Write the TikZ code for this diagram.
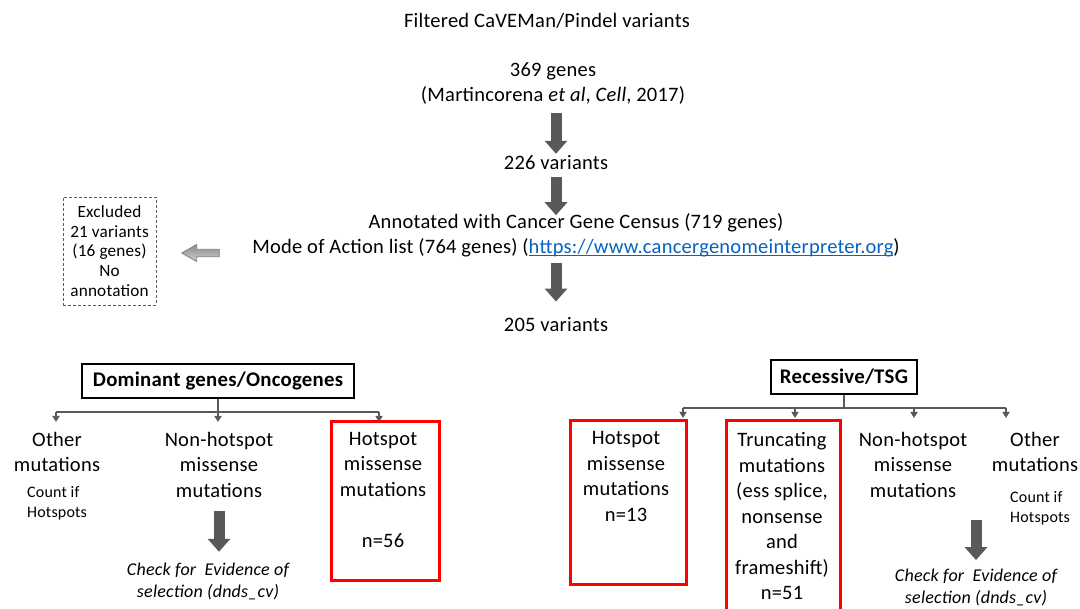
\documentclass[tikz,border=0pt]{standalone}
\usepackage{fontspec}
\setmainfont[LetterSpace=1.2]{Carlito}
\usetikzlibrary{arrows.meta}
\definecolor{dgray}{HTML}{595959}
\definecolor{linkblue}{HTML}{0563C1}
\definecolor{boxred}{HTML}{FF0000}
\definecolor{agray}{HTML}{7F7F7F}
\newcommand\fmain{\fontsize{20.5}{25.5}\selectfont}
\newcommand\fsml{\fontsize{16}{20}\selectfont}
\newcommand\fexcl{\fontsize{17.2}{19.8}\selectfont}
\newcommand\fchk{\fontsize{18}{21.5}\selectfont\itshape}
\newcommand\fbld{\fontsize{20.8}{25}\selectfont\bfseries}
\newcommand\linkul[1]{\setbox0\hbox{#1}\rlap{\rule[-2.4pt]{\wd0}{1.1pt}}\box0}
\begin{document}
\begin{tikzpicture}[x=1pt,y=-1pt,
  txt/.style={inner sep=0pt, align=center, font=\fmain,
    execute at begin node=\strut, execute at end node=\strut},
  smalltxt/.style={txt, align=left, font=\fsml},
  chk/.style={txt, font=\fchk},
  catbox/.style={draw=black, line width=1.3pt, inner sep=0pt, font=\fbld, minimum height=34pt},
  redbox/.style={draw=boxred, line width=3pt, inner sep=0pt},
  exclbox/.style={draw=dgray, dashed, dash pattern=on 3pt off 2pt, line width=0.9pt,
    inner sep=0pt, align=center, font=\fexcl, minimum width=93pt, minimum height=108pt},
  bigarrow/.style={draw=dgray, line width=11pt, -{Triangle[width=22pt,length=13pt]}},
  treeline/.style={draw=dgray, line width=2pt},
  treetip/.style={draw=dgray, line width=2pt, -{Triangle[width=7pt,length=6pt]}},
  grayarrow/.style={draw=agray, line width=0.8pt, top color=black!45, middle color=white, bottom color=black!20}
]
\useasboundingbox (0,0) rectangle (1080,609);

% top chain
\node[txt] (filt) at (547,22) {Filtered CaVEMan/Pindel variants};
\node[txt] (genes) at (553,86) {369 genes\\(Martincorena \textit{et al}, \textit{Cell}, 2017)};
\node[txt] (v226) at (556,164) {226 variants};
\node[txt] (annot) at (576,237.5) {Annotated with Cancer Gene Census (719 genes)\\Mode of Action list (764 genes) (\textcolor{linkblue}{\linkul{https://www.cancergenomeinterpreter.org}})};
\node[txt] (v205) at (556,326) {205 variants};

\draw[bigarrow, shorten <=3.5pt, shorten >=-2.75pt] (genes.south -| v226) -- (v226.north);
\draw[bigarrow, shorten <=0pt, shorten >=-2pt] (v226.south) -- (v226 |- annot.north);
\draw[bigarrow, shorten <=1pt, shorten >=11.5pt] (v226 |- annot.south) -- (v205.north);

% excluded
\node[exclbox] (excl) at (109.5,251) {Excluded\\21 variants\\(16 genes)\\No\\annotation};
\draw[grayarrow] (181.7,253) -- (196.7,244.5) -- (196.7,249.3) -- (219.3,249.3)
  -- (219.3,256.7) -- (196.7,256.7) -- (196.7,261.5) -- cycle;

% left tree
\node[catbox, minimum width=272pt] (dom) at (218,381) {Dominant genes/Oncogenes};
\node[txt] (other1) at (57,455.5) {Other\\mutations};
\node[smalltxt, anchor=west] (count1) at (27,504.5) {Count if\\Hotspots};
\node[txt] (nonhot1) at (219,468.5) {Non-hotspot\\missense\\mutations};
\node[redbox, minimum width=108pt, minimum height=159pt] (hot1box) at (385,501.5) {};
\node[txt] (hot1) at (383,493.3) {Hotspot\\missense\\mutations\\[25.5pt]n=56};
\node[chk] (check1) at (208,583.5) {Check for\ \ Evidence of\\selection (dnds\_cv)};

\coordinate (tL1) at (56,422);
\coordinate (tL2) at (218,422);
\coordinate (tL3) at (379,422);
\draw[treeline] (dom.south) -- ++(0,13) coordinate (jL);
\draw[treeline] (jL -| tL1) -- (jL -| tL3);
\foreach \t in {tL1,tL2,tL3} \draw[treetip] (jL -| \t) -- (\t);
\draw[bigarrow, shorten <=6pt, shorten >=11.3pt] (nonhot1.south) -- (nonhot1 |- check1.north);

% right tree
\node[catbox, minimum width=146pt] (rec) at (844,377) {Recessive/TSG};
\node[redbox, minimum width=116pt, minimum height=164pt] (hot2box) at (628,503) {};
\node[txt] (hot2) at (626,480) {Hotspot\\missense\\mutations\\n=13};
\node[redbox, minimum width=114pt, minimum height=199pt] (truncbox) at (783,520.5) {};
\node[txt] (trunc) at (782,520) {Truncating\\mutations\\(ess splice,\\nonsense\\and\\frameshift)\\n=51};
\node[txt] (nonhot2) at (913,468.5) {Non-hotspot\\missense\\mutations};
\node[txt] (other2) at (1035,455.5) {Other\\mutations};
\node[smalltxt, anchor=west] (count2) at (1010,509.5) {Count if\\Hotspots};
\node[chk] (check2) at (976,589.5) {Check for\ \ Evidence of\\selection (dnds\_cv)};

\coordinate (tR1) at (683,418);
\coordinate (tR2) at (795,418);
\coordinate (tR3) at (914,418);
\coordinate (tR4) at (1006,418);
\draw[treeline] (rec.south) -- ++(0,13) coordinate (jR);
\draw[treeline] (jR -| tR1) -- (jR -| tR4);
\foreach \t in {tR1,tR2,tR3,tR4} \draw[treetip] (jR -| \t) -- (\t);
\draw[bigarrow, shorten <=15pt, shorten >=9pt] (check2 |- nonhot2.south) -- (check2.north);
\end{tikzpicture}
\end{document}
